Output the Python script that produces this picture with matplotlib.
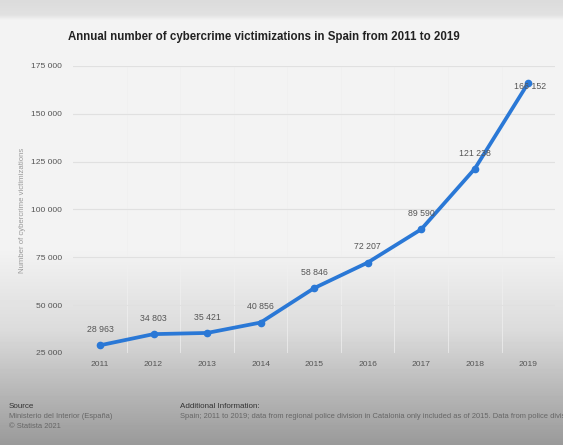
import numpy as np
import matplotlib
matplotlib.use("Agg")
import matplotlib.pyplot as plt

plt.rcParams["font.family"] = ["Liberation Sans", "DejaVu Sans"]

years = [2011, 2012, 2013, 2014, 2015, 2016, 2017, 2018, 2019]
victims = [28963, 34803, 35421, 40856, 58846, 72207, 89590, 121238, 166152]
yticks = [25000, 50000, 75000, 100000, 125000, 150000, 175000]


def fmt(v):
    return f"{v:,}".replace(",", " ")


fig = plt.figure(figsize=(5.63, 4.45), dpi=100)

# background: grey video-like gradient
bg = fig.add_axes([0, 0, 1, 1], zorder=-5)
stops_y = [0, 14, 20, 250, 330, 390, 445]
stops_g = [0.86, 0.88, 0.955, 0.95, 0.86, 0.72, 0.60]
rows = np.interp(np.arange(445), stops_y, stops_g)
grad = np.repeat(rows[:, None], 10, axis=1)
bg.imshow(grad, cmap="gray", vmin=0, vmax=1, aspect="auto", extent=[0, 1, 0, 1])
bg.axis("off")

ax = fig.add_axes([0.130, 0.207, 0.856, 0.645])
ax.set_facecolor("none")
ax.plot(years, victims, color="#2a78d6", lw=2.7, marker="o", ms=4.5, zorder=3)

for i, (x, y) in enumerate(zip(years, victims)):
    if i == len(years) - 1:
        ax.annotate(fmt(y), (x, y), xytext=(1, -3), textcoords="offset points",
                    ha="center", va="center", fontsize=6.3, color="#555555")
    else:
        ax.annotate(fmt(y), (x, y), xytext=(0, 8), textcoords="offset points",
                    ha="center", va="bottom", fontsize=6.3, color="#555555")

ax.set_xlim(2010.5, 2019.5)
ax.set_ylim(25000, 175000)
ax.set_xticks(years)
ax.set_xticklabels([str(y) for y in years])
ax.set_yticks(yticks)
ax.set_yticklabels([fmt(t) for t in yticks])
ax.tick_params(length=0, labelsize=6.1, colors="#555555")
ax.tick_params(axis="x", pad=6)
ax.tick_params(axis="y", pad=8)
ax.grid(axis="y", color="#e0e0e0", lw=0.8)
ax.set_xticks([y + 0.5 for y in years[:-1]], minor=True)
ax.grid(axis="x", which="minor", color="#f0f0f0", lw=0.5)
ax.tick_params(which="minor", length=0)
for s in ax.spines.values():
    s.set_visible(False)

fig.text(22 / 563, 1 - 210 / 445, "Number of cybercrime victimizations", rotation=90,
         ha="center", va="center", fontsize=5.6, color="#9a9a9a")

fig.text(264 / 563, 1 - 37 / 445, "Annual number of cybercrime victimizations in Spain from 2011 to 2019",
         ha="center", va="center", fontsize=8.3, fontweight="bold", color="#222222")

fig.text(9 / 563, 1 - 407 / 445, "Source", ha="left", va="center", fontsize=5.8, color="#333333")
fig.text(9 / 563, 1 - 417 / 445, "Ministerio del Interior (España)", ha="left", va="center",
         fontsize=5.4, color="#666666")
fig.text(9 / 563, 1 - 427 / 445, "© Statista 2021", ha="left", va="center", fontsize=5.4, color="#666666")
fig.text(180 / 563, 1 - 407 / 445, "Additional Information:", ha="left", va="center",
         fontsize=5.8, color="#333333")
fig.text(180 / 563, 1 - 417 / 445,
         "Spain; 2011 to 2019; data from regional police division in Catalonia only included as of 2015. Data from police division",
         ha="left", va="center", fontsize=5.4, color="#666666")

fig.savefig("out.png", dpi=100)
